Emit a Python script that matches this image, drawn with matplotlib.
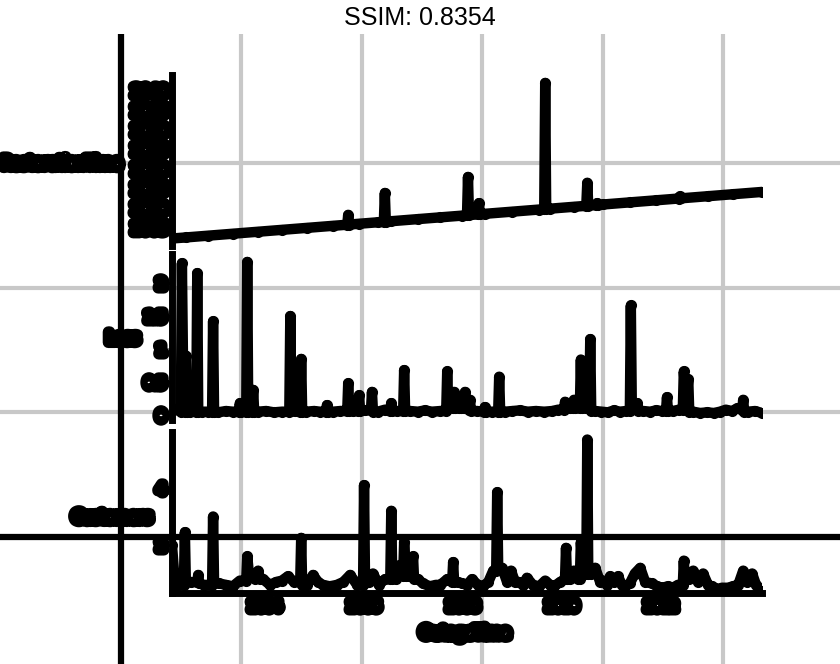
import matplotlib
matplotlib.use("Agg")
import matplotlib.pyplot as plt
import matplotlib.patheffects as pe

# OutageTime in decimal years
rest_time = [2002.12, 2002.40, 2002.85, 2003.35, 2003.86, 2004.34, 2004.85, 2005.37, 2005.66, 2005.68,
             2005.70, 2005.90, 2006.28, 2006.40, 2006.42, 2006.44, 2006.55, 2007.09, 2007.54, 2007.98,
             2008.08, 2008.10, 2008.12, 2008.30, 2008.32, 2008.34, 2008.44, 2008.99, 2009.54, 2009.64,
             2009.66, 2009.68, 2009.76, 2010.24, 2010.49, 2010.51, 2010.53, 2010.69, 2010.71, 2010.73,
             2010.83, 2011.37, 2011.90, 2012.36, 2012.38, 2012.40, 2012.95, 2013.45, 2014.04]
rest_value = [2002.15, 2002.42, 2002.87, 2003.37, 2003.88, 2004.36, 2004.87, 2005.39, 2005.68, 2008.20,
              2005.72, 2005.92, 2006.30, 2006.42, 2013.80, 2006.46, 2006.57, 2007.11, 2007.56, 2008.00,
              2008.10, 2017.90, 2008.14, 2008.32, 2011.20, 2008.36, 2008.46, 2009.01, 2009.56, 2009.66,
              2041.95, 2009.70, 2009.78, 2010.26, 2010.51, 2016.40, 2010.55, 2010.71, 2011.20, 2010.75,
              2010.85, 2011.39, 2011.92, 2012.38, 2012.90, 2012.42, 2012.97, 2013.47, 2014.06]

loss_time = [2002.12, 2002.30, 2002.32, 2002.35, 2002.38, 2002.40, 2002.42, 2002.48, 2002.61, 2002.63,
             2002.65, 2002.73, 2002.85, 2002.93, 2002.95, 2002.97, 2003.05, 2003.21, 2003.35, 2003.47,
             2003.49, 2003.51, 2003.62, 2003.64, 2003.66, 2003.74, 2003.76, 2003.78, 2003.86, 2004.02,
             2004.18, 2004.34, 2004.49, 2004.51, 2004.53, 2004.61, 2004.71, 2004.73, 2004.75, 2004.83,
             2004.99, 2005.11, 2005.23, 2005.25, 2005.27, 2005.37, 2005.52, 2005.66, 2005.68, 2005.70,
             2005.78, 2005.88, 2005.90, 2005.92, 2006.02, 2006.14, 2006.16, 2006.18, 2006.28, 2006.42,
             2006.53, 2006.55, 2006.57, 2006.67, 2006.79, 2006.81, 2006.83, 2006.93, 2007.09, 2007.23,
             2007.37, 2007.54, 2007.66, 2007.68, 2007.70, 2007.80, 2007.82, 2007.84, 2007.92, 2007.94,
             2007.96, 2008.02, 2008.04, 2008.06, 2008.12, 2008.14, 2008.16, 2008.28, 2008.42, 2008.44,
             2008.46, 2008.59, 2008.71, 2008.73, 2008.75, 2008.85, 2008.99, 2009.15, 2009.31, 2009.47,
             2009.64, 2009.80, 2009.92, 2010.04, 2010.06, 2010.08, 2010.16, 2010.22, 2010.24, 2010.26,
             2010.36, 2010.38, 2010.40, 2010.48, 2010.55, 2010.57, 2010.59, 2010.67, 2010.79, 2010.93,
             2011.05, 2011.17, 2011.29, 2011.37, 2011.39, 2011.41, 2011.50, 2011.52, 2011.54, 2011.64,
             2011.78, 2011.90, 2012.02, 2012.10, 2012.12, 2012.14, 2012.24, 2012.36, 2012.44, 2012.46,
             2012.51, 2012.55, 2012.57, 2012.65, 2012.79, 2012.93, 2013.07, 2013.19, 2013.31, 2013.43,
             2013.54, 2013.64, 2013.66, 2013.68, 2013.76, 2013.90, 2014.04]
loss_value = [0.10, 0.05, 2.30, 0.30, 0.05, 0.90, 0.05, 0.05, 0.05, 2.15,
              0.05, 0.05, 0.05, 0.05, 1.42, 0.04, 0.04, 0.06, 0.05, 0.05,
              0.18, 0.05, 0.05, 2.32, 0.05, 0.05, 0.38, 0.05, 0.05, 0.06,
              0.04, 0.05, 0.05, 1.50, 0.06, 0.06, 0.05, 0.85, 0.05, 0.05,
              0.06, 0.05, 0.05, 0.15, 0.05, 0.05, 0.06, 0.06, 0.48, 0.06,
              0.06, 0.06, 0.30, 0.06, 0.07, 0.07, 0.35, 0.05, 0.05, 0.08,
              0.06, 0.18, 0.06, 0.06, 0.06, 0.68, 0.06, 0.06, 0.05, 0.07,
              0.05, 0.06, 0.06, 0.66, 0.10, 0.10, 0.35, 0.10, 0.10, 0.20,
              0.10, 0.10, 0.35, 0.10, 0.08, 0.23, 0.06, 0.06, 0.05, 0.12,
              0.05, 0.05, 0.05, 0.58, 0.05, 0.05, 0.06, 0.07, 0.05, 0.06,
              0.05, 0.06, 0.08, 0.08, 0.20, 0.10, 0.10, 0.10, 0.23, 0.10,
              0.10, 0.84, 0.10, 0.10, 0.10, 1.15, 0.06, 0.06, 0.05, 0.04,
              0.07, 0.05, 0.06, 0.06, 1.66, 0.10, 0.10, 0.18, 0.06, 0.06,
              0.05, 0.07, 0.06, 0.06, 0.27, 0.06, 0.06, 0.08, 0.08, 0.66,
              0.15, 0.54, 0.05, 0.05, 0.03, 0.04, 0.03, 0.05, 0.08, 0.06,
              0.10, 0.08, 0.23, 0.05, 0.05, 0.06, 0.03]

cust_time = [2002.12, 2002.18, 2002.24, 2002.36, 2002.38, 2002.40, 2002.51, 2002.63, 2002.65, 2002.67,
             2002.77, 2002.93, 2002.95, 2002.97, 2003.07, 2003.21, 2003.35, 2003.49, 2003.62, 2003.64,
             2003.68, 2003.74, 2003.80, 2003.86, 2003.90, 2003.96, 2004.10, 2004.22, 2004.34, 2004.46,
             2004.59, 2004.71, 2004.73, 2004.75, 2004.85, 2004.97, 2005.07, 2005.17, 2005.31, 2005.45,
             2005.58, 2005.72, 2005.86, 2005.98, 2006.00, 2006.02, 2006.10, 2006.18, 2006.30, 2006.42,
             2006.53, 2006.55, 2006.57, 2006.65, 2006.73, 2006.79, 2006.81, 2006.85, 2006.91, 2006.97,
             2006.99, 2007.01, 2007.09, 2007.19, 2007.33, 2007.45, 2007.54, 2007.68, 2007.78, 2007.80,
             2007.82, 2007.90, 2007.98, 2008.08, 2008.18, 2008.30, 2008.40, 2008.51, 2008.61, 2008.67,
             2008.69, 2008.71, 2008.79, 2008.89, 2008.97, 2009.05, 2009.13, 2009.21, 2009.29, 2009.41,
             2009.54, 2009.66, 2009.76, 2009.84, 2009.96, 2010.06, 2010.08, 2010.10, 2010.16, 2010.24,
             2010.32, 2010.36, 2010.38, 2010.42, 2010.49, 2010.51, 2010.53, 2010.59, 2010.67, 2010.77,
             2010.83, 2010.91, 2010.97, 2011.05, 2011.13, 2011.21, 2011.27, 2011.37, 2011.47, 2011.58,
             2011.68, 2011.82, 2011.92, 2012.02, 2012.14, 2012.24, 2012.34, 2012.44, 2012.46, 2012.48,
             2012.57, 2012.65, 2012.75, 2012.85, 2012.95, 2013.03, 2013.13, 2013.23, 2013.35, 2013.45,
             2013.56, 2013.66, 2013.74, 2013.84, 2013.92, 2014.04]
cust_value = [2.00, 0.60, 0.60, 0.60, 2.45, 0.70, 0.70, 0.70, 0.95, 0.65,
              0.60, 0.60, 3.00, 0.65, 0.65, 0.60, 0.55, 0.75, 0.75, 1.60,
              0.90, 1.00, 0.80, 1.10, 0.80, 0.80, 0.60, 0.70, 0.75, 0.90,
              0.70, 0.70, 2.25, 0.60, 0.60, 0.95, 0.70, 0.60, 0.55, 0.60,
              0.70, 0.95, 0.60, 0.60, 4.10, 0.70, 0.70, 1.00, 0.60, 0.80,
              0.80, 3.20, 0.80, 0.80, 1.30, 0.90, 2.10, 0.90, 0.90, 0.90,
              1.60, 0.80, 0.80, 0.65, 0.55, 0.60, 0.60, 0.80, 0.70, 1.40,
              0.70, 0.70, 0.65, 0.60, 0.80, 0.60, 0.55, 0.70, 1.10, 1.10,
              3.85, 1.20, 1.20, 0.70, 1.10, 0.70, 0.70, 0.60, 0.85, 0.60,
              0.55, 0.75, 0.60, 0.55, 0.70, 0.80, 1.90, 0.80, 0.80, 1.10,
              0.80, 0.80, 2.10, 1.00, 1.00, 5.70, 1.00, 1.00, 1.20, 0.70,
              0.75, 0.60, 0.90, 0.70, 0.90, 0.60, 0.55, 0.65, 1.00, 1.20,
              0.70, 0.65, 0.55, 0.50, 0.55, 0.50, 0.60, 0.60, 1.45, 0.80,
              0.80, 1.10, 0.70, 1.00, 0.60, 0.55, 0.45, 0.50, 0.50, 0.55,
              0.60, 1.10, 0.70, 1.00, 0.60, 0.40]

year_ticks = [2004, 2006, 2008, 2010, 2012]
rest_ticks = [2005, 2010, 2015, 2020, 2025, 2030, 2035, 2040]
loss_ticks = [0, 0.5, 1, 1.5, 2]
loss_labels = ["0", "0.5", "1", "1.5", "2"]
cust_ticks = [2, 4]
bg_grid_x = [1, 2, 3, 4, 5]
bg_grid_y = [1, 2, 3]

W, H = 840, 664
fig = plt.figure(figsize=(W / 100, H / 100), dpi=100)
blob = [pe.withStroke(linewidth=8, foreground="black")]

# background grid behind everything
bg = fig.add_axes([0, 0, 1, 630 / H])
bg.set_xlim(-1.0, 5.97); bg.set_ylim(-1.018, 4.034)
bg.set_xticks(bg_grid_x); bg.set_yticks(bg_grid_y)
bg.grid(True, color="#c8c8c8", lw=3)
bg.tick_params(length=0, labelbottom=False, labelleft=False)
for s in bg.spines.values():
    s.set_visible(False)
bg.axvline(0, color="black", lw=4.5)
bg.axhline(0, color="black", lw=4.5)

XL = (2002.12, 2014.04)


def px_rect(top, bottom, left=172, right=762):
    return [left / W, 1 - bottom / H, (right - left) / W, (bottom - top) / H]


def panel(rect, x, y, ylim, yticks, ylabels, label, lab_x, lab_y,
          show_x=False, tsize=9, pad=2):
    ax = fig.add_axes(rect)
    ax.patch.set_alpha(0)
    ax.plot(x, y, color="black", lw=7.5, marker="o", ms=7,
            solid_capstyle="round", solid_joinstyle="round")
    ax.set_xlim(*XL); ax.set_ylim(*ylim)
    ax.set_yticks(yticks); ax.set_yticklabels(ylabels, fontsize=tsize)
    ax.set_xticks(year_ticks)
    if show_x:
        ax.set_xticklabels([str(t) for t in year_ticks], fontsize=9)
    else:
        ax.tick_params(bottom=False, labelbottom=False)
        ax.spines["bottom"].set_visible(False)
    ax.tick_params(length=3, width=2, pad=pad)
    for s in ("top", "right"):
        ax.spines[s].set_visible(False)
    for s in ("left", "bottom"):
        ax.spines[s].set_linewidth(5)
    for t in ax.get_yticklabels() + ax.get_xticklabels():
        t.set_path_effects(blob)
    ax.set_ylabel(label, rotation=0, ha="right", va="center", fontsize=10.5, path_effects=blob)
    ax.yaxis.set_label_coords(lab_x, lab_y)
    return ax


ax1 = panel(px_rect(75, 246), rest_time, rest_value, (2000.23, 2043.97),
            rest_ticks, [str(t) for t in rest_ticks], "RestorationTime", -0.085, 0.485,
            tsize=10, pad=0.5)
ax2 = panel(px_rect(254, 420), loss_time, loss_value, (-0.076, 2.44),
            loss_ticks, loss_labels, "Loss", -0.056, 0.494)
ax3 = panel(px_rect(432, 593), cust_time, cust_value, (0.316, 5.965),
            cust_ticks, [str(t) for t in cust_ticks], "Customers", -0.034, 0.472, show_x=True)
ax3.set_xlabel("OutageTime", fontsize=10.5, path_effects=blob)
ax3.xaxis.set_label_coords(0.497, -0.2)

fig.text(0.5, 1 - 18 / H, "SSIM: 0.8354", ha="center", va="center",
         fontsize=18, family="Liberation Sans")

fig.savefig("out.png", dpi=100)
